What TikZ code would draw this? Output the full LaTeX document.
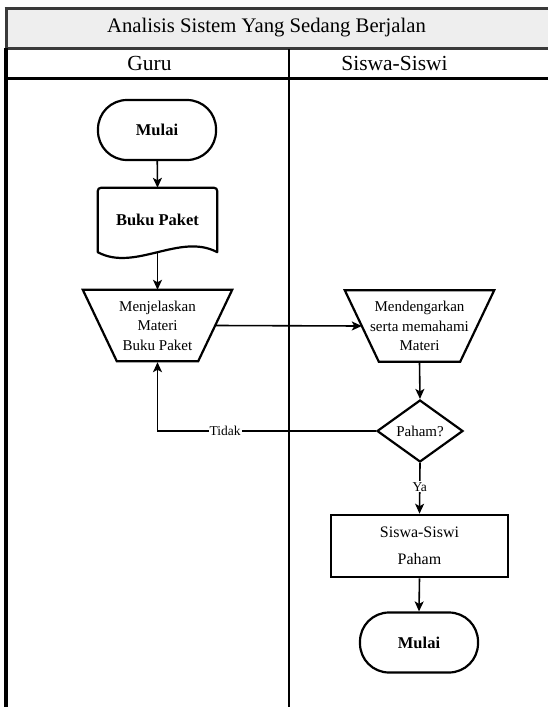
\documentclass[tikz,border=0pt]{standalone}
\usepackage{fontspec}
\setmainfont{Liberation Serif}
\usetikzlibrary{arrows.meta,shapes.geometric,calc}
\definecolor{bandgrey}{HTML}{EEEEEE}
\definecolor{rulegrey}{HTML}{3A3A3A}
\begin{document}
\begin{tikzpicture}[x=1pt,y=-1pt,
  fs/.style={font=\fontsize{#1}{25}\selectfont},
  terminal/.style={draw, rectangle, rounded corners=29pt, line width=2.2pt,
    minimum width=118pt, minimum height=60pt, inner sep=0pt,
    font=\fontsize{16.5}{20}\selectfont\bfseries},
  iobox/.style={rectangle, minimum width=149pt, minimum height=71pt,
    inner sep=0pt, align=center, font=\fontsize{15}{19.5}\selectfont},
  ioline/.style={draw, line width=2.2pt, line join=miter},
  process/.style={draw, rectangle, line width=2.6pt, minimum width=177pt,
    minimum height=62pt, align=center, font=\fontsize{16}{27}\selectfont},
  decision/.style={draw, diamond, line width=2.2pt, minimum width=86pt,
    minimum height=62pt, inner sep=0pt, font=\fontsize{15}{18}\selectfont},
  flow/.style={line width=1.6pt, -{Stealth[length=10pt,width=9pt,inset=2.5pt]}},
  tag/.style={fill=white, inner sep=1pt, font=\fontsize{13.5}{16}\selectfont}
]
\useasboundingbox (0,0) rectangle (547,707);

% swimlane frame
\fill[bandgrey] (6,8) rectangle (548,48);
\draw[rulegrey, line width=3pt] (4.5,8) -- (548,8);
\draw[rulegrey, line width=3pt] (6,8) -- (6,48);
\draw[rulegrey, line width=3pt] (6,48) -- (548,48);
\draw[black, line width=3pt] (6,78) -- (548,78);
\draw[black, line width=3.2pt] (6,48) -- (6,708);
\draw[black, line width=2.6pt] (289,49) -- (289,708);

\node[fs=20.7] (title) at (266.5,28) {Analisis Sistem Yang Sedang Berjalan};
\node[fs=21.5] (laneA) at (149.5,63) {Guru};
\node[fs=21.5] (laneB) at (394.5,63) {Siswa-Siswi};

% Guru lane
\node[terminal] (start) at (157,130) {Mulai};
\node[minimum width=119pt, minimum height=64pt, inner sep=0pt,
      font=\fontsize{16.5}{20}\selectfont\bfseries] (doc) at (157.5,220) {Buku Paket};
\draw[line width=2.2pt, line join=round]
  (doc.south west) [rounded corners=3pt] -- (doc.north west) -- (doc.north east)
  [sharp corners] -- (doc.south east)
  .. controls +(-37,-20) and +(37,20) .. (doc.south west) -- cycle;

\node[iobox] (explain) at (157.5,325.5) {Menjelaskan\\Materi\\Buku Paket};
\draw[ioline] (explain.north west) -- (explain.north east)
  -- ($(explain.south east)+(-34,0)$) -- ($(explain.south west)+(34,0)$) -- cycle;

% Siswa-Siswi lane
\node[iobox] (listen) at (419.5,326) {Mendengarkan\\serta memahami\\Materi};
\draw[ioline] (listen.north west) -- (listen.north east)
  -- ($(listen.south east)+(-34,0)$) -- ($(listen.south west)+(34,0)$) -- cycle;
\node[decision] (check) at (420,431) {Paham?};
\node[process] (understood) at (419.5,546) {Siswa-Siswi\\Paham};
\node[terminal] (finish) at (419,642.5) {Mulai};

% connectors
\draw[flow] (start) -- (doc.north);
\draw[flow] (doc.south) -- (explain.north);
\draw[flow] ($(explain.east)+(-17,0)$) -- ($(listen.west)+(17,0)$);
\draw[flow] (listen.south) -- (check.north);
\draw[flow] (check.west) -| node[tag, pos=0.345] (no) {Tidak} ($(explain.south)+(0,1)$);
\draw[flow] (check.south) -- node[tag, pos=0.47] (yes) {Ya} (understood.north);
\draw[flow] (understood.south) -- (finish.north);
\end{tikzpicture}
\end{document}
